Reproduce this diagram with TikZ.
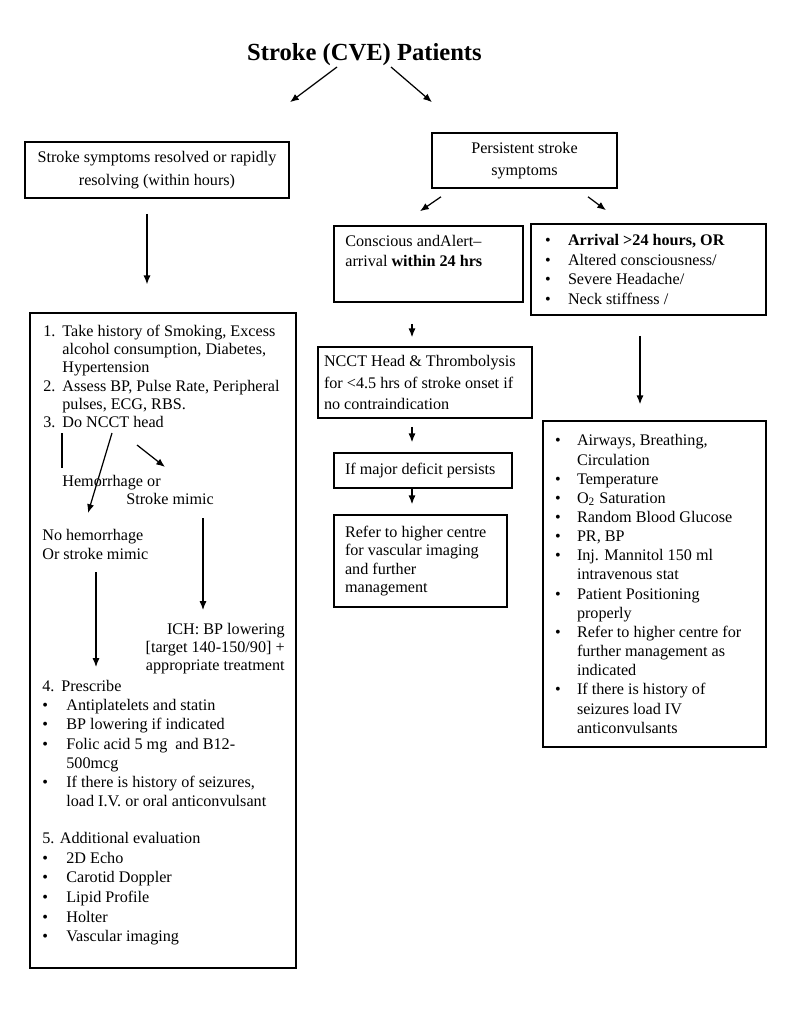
\documentclass[tikz,border=0pt]{standalone}
\usepackage{fontspec}
\setmainfont{Liberation Serif}
\usetikzlibrary{arrows.meta, calc}

\newlength\bulw
\setlength\bulw{0.44cm}
\newcommand\bodyfont[1][10.8]{\fontsize{9.2}{#1}\selectfont}
\newcommand\bul{\makebox[\bulw][l]{\textbullet}}
\newcommand\bcont{\hspace*{\bulw}}
\newcommand\stepno[1]{\makebox[0.38cm][l]{#1}}
\newcommand\stepin{\hspace*{0.38cm}}

\begin{document}
\begin{tikzpicture}[x=0.02cm, y=-0.02cm,
    box/.style={draw, line width=0.9pt, inner sep=0pt, font=\bodyfont},
    txt/.style={inner sep=0pt, align=left, anchor=north west, font=\bodyfont},
    arrow/.style={-{Latex[length=5pt, width=4pt]}, line width=0.7pt},
    link/.style={line width=0.7pt}
  ]
  \useasboundingbox (0,0) rectangle (800,1011);

  % title and first split
  \node[inner sep=0pt, font=\fontsize{14}{16}\selectfont\bfseries] at (364.5,55) (title) {Stroke (CVE) Patients};
  \node[box, minimum width=5.28cm, minimum height=1.12cm, align=center, font={\bodyfont[13]}] at (157,170) (resolved)
    {Stroke symptoms resolved or rapidly\\resolving (within hours)};
  \node[box, minimum width=3.7cm, minimum height=1.1cm, align=center, font={\bodyfont[12.5]}] at (524.5,160.5) (persist)
    {Persistent stroke\\symptoms};
  \draw[arrow] ($(title.center)+(-27.5,12)$) -- ($(resolved.north)+(133,-39)$);
  \draw[arrow] ($(title.center)+(26.5,12)$) -- ($(persist.north)+(-92.5,-30)$);

  % persistent symptoms
  \node[box, minimum width=3.78cm, minimum height=1.52cm] at (428.5,264) (conscious) {};
  \node[txt, font={\bodyfont[11.3]}] at (345,235) (consciousText)
    {Conscious andAlert–\\arrival \textbf{within 24 hrs}};
  \node[box, minimum width=4.7cm, minimum height=1.82cm, text width=4.14cm, align=flush left,
        font={\bodyfont[11.3]\setlength\bulw{0.46cm}}] at (648.5,269.5) (alter)
    {\bul\textbf{Arrival >24 hours, OR}\\\bul Altered consciousness/\\\bul Severe Headache/\\\bul Neck stiffness /};
  \node[box, minimum width=4.28cm, minimum height=1.42cm, text width=4.04cm, align=flush left, font={\bodyfont[12.4]}] at (425,382.5) (ncct)
    {NCCT Head \& Thrombolysis\\for <4.5 hrs of stroke onset if\\no contraindication};
  \node[box, minimum width=3.56cm, minimum height=0.7cm, text width=3.12cm, align=flush left] at (423,470.5) (deficit)
    {If major deficit persists};
  \node[box, minimum width=3.46cm, minimum height=1.84cm, text width=3.02cm, align=flush left, font={\bodyfont[10.4]}] at (420.5,561) (refer)
    {Refer to higher centre\\for vascular imaging\\and further\\management};
  \node[box, minimum width=4.46cm, minimum height=6.52cm, text width=3.98cm, align=flush left,
        font={\bodyfont[10.9]\setlength\bulw{0.44cm}}] at (654.5,584) (mgmt)
    {\bul Airways, Breathing,\\\bcont Circulation\\\bul Temperature\\\bul O\textsubscript{2} Saturation\\
     \bul Random Blood Glucose\\\bul PR, BP\\\bul Inj. Mannitol 150 ml\\\bcont intravenous stat\\
     \bul Patient Positioning\\\bcont properly\\\bul Refer to higher centre for\\\bcont further management as\\
     \bcont indicated\\\bul If there is history of\\\bcont seizures load IV\\\bcont anticonvulsants};
  \draw[arrow] ($(persist.south)+(-83.5,8)$) -- ($(conscious.north)+(-8.5,-14)$);
  \draw[arrow] ($(persist.south)+(63.5,8)$) -- ($(alter.north)+(-42.5,-13)$);
  \draw[arrow] ($(conscious.south)+(-16.5,21)$) -- ($(ncct.north)+(-13,-9)$);
  \draw[arrow] ($(ncct.south)+(-13,8)$) -- ($(deficit.north)+(-11,-10)$);
  \draw[arrow] ($(deficit.south)+(-11,0)$) -- ($(refer.north)+(-8.5,-10)$);
  \draw[arrow] ($(alter.south)+(-8.5,20)$) -- ($(mgmt.north)+(-14.5,-16)$);

  % resolved symptoms
  \node[box, minimum width=5.32cm, minimum height=13.1cm] at (163,640.5) (workup) {};
  \draw[arrow] ($(resolved.south)+(-10,15)$) -- ($(workup.north)+(-16,-28)$);
  \node[txt, font={\bodyfont[10.3]}] at (43,325) (steps)
    {\stepno{1.}Take history of Smoking, Excess\\\stepin alcohol consumption, Diabetes,\\\stepin Hypertension\\
     \stepno{2.}Assess BP, Pulse Rate, Peripheral\\\stepin pulses, ECG, RBS.\\\stepno{3.}Do NCCT head};
  \node[txt] at (62,475) (hem) {Hemorrhage or};
  \node[txt] at (126,493) (mimic) {Stroke mimic};
  \node[txt] at (42,529) (nohem) {No hemorrhage\\Or stroke mimic};
  \node[txt, anchor=north east, align=right, font={\bodyfont[10.2]}] at (285,623) (ich)
    {ICH: BP lowering\\{[}target 140-150/90] +\\appropriate treatment};
  \node[txt, font={\bodyfont[10.9]\setlength\bulw{0.48cm}}] at (42,680) (rx)
    {\stepno{4.}Prescribe\\\bul Antiplatelets and statin\\\bul BP lowering if indicated\\
     \bul Folic acid 5 mg\ \ and B12-\\\bcont 500mcg\\\bul If there is history of seizures,\\
     \bcont load I.V. or oral anticonvulsant};
  \node[txt, font={\bodyfont[11.2]\setlength\bulw{0.48cm}}] at (42,832) (evalu)
    {5. Additional evaluation\\\bul 2D Echo\\\bul Carotid Doppler\\\bul Lipid Profile\\\bul Holter\\\bul Vascular imaging};
  \draw[link] ($(steps.north west)+(19,108)$) -- ($(hem.north west)+(0,-7)$);
  \draw[arrow] ($(steps.north west)+(69,108)$) -- ($(nohem.north west)+(46,-16)$);
  \draw[arrow] ($(steps.north west)+(94,120)$) -- ($(hem.north west)+(103,-8)$);
  \draw[arrow] ($(mimic.north west)+(77,25)$) -- ($(ich.north east)+(-82,-13)$);
  \draw[arrow] ($(nohem.north west)+(54,43)$) -- ($(rx.north west)+(54,-13)$);
\end{tikzpicture}
\end{document}
